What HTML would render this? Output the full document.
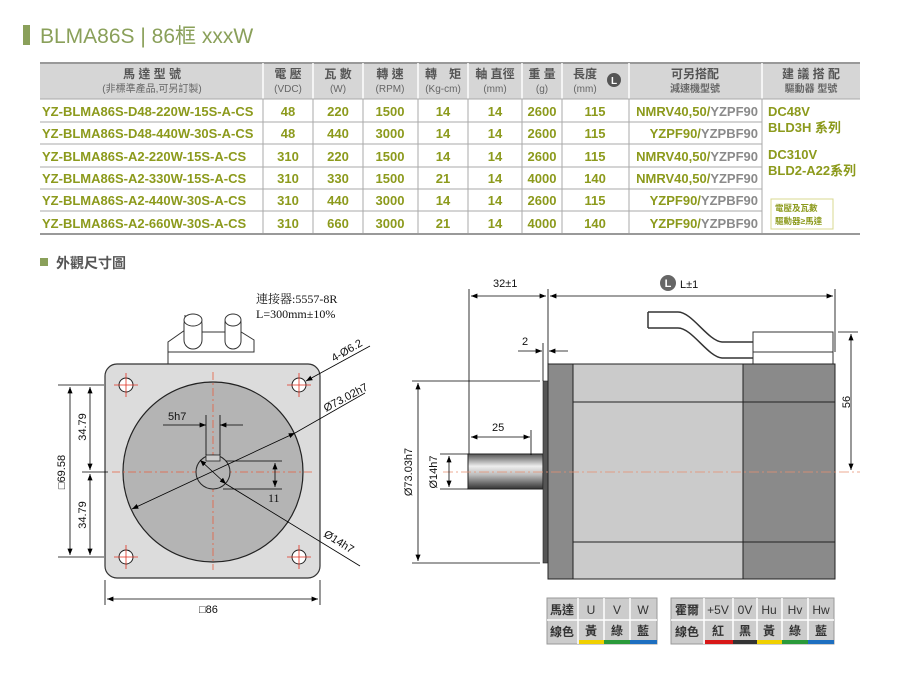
<!DOCTYPE html>
<html><head><meta charset="utf-8"><style>
body{margin:0;background:#fff;}
svg{display:block;font-family:"Liberation Sans","Noto Sans CJK TC",sans-serif;}
.o{fill:#8c9a1c;font-size:13px;font-weight:bold;}
.g{fill:#8a8a8a;font-size:13px;font-weight:bold;}
.h{fill:#555;font-size:12px;font-weight:bold;}
.hs{fill:#666;font-size:10px;}
.d{font-family:"Liberation Sans",sans-serif;font-size:11px;fill:#111;}
.s{font-family:"Liberation Serif","Noto Serif CJK SC",serif;font-size:12px;fill:#111;}
</style></head><body>
<svg width="900" height="675" viewBox="0 0 900 675">
<defs>
<marker id="a" viewBox="0 0 10 10" refX="10" refY="5" markerWidth="8" markerHeight="8" orient="auto-start-reverse"><path d="M0,1 L10,5 L0,9z" fill="#000"/></marker>
<linearGradient id="sh" x1="0" y1="0" x2="0" y2="1"><stop offset="0" stop-color="#555"/><stop offset="0.35" stop-color="#eee"/><stop offset="0.6" stop-color="#bbb"/><stop offset="1" stop-color="#333"/></linearGradient>
</defs>
<!-- title -->
<rect x="23" y="25" width="7" height="20" fill="#8aa05a"/>
<text x="40" y="43" font-size="21" fill="#8aa05a">BLMA86S | 86框 xxxW</text>
<!-- table -->
<rect x="40" y="63" width="820" height="36" fill="#d6d6d6"/>
<rect x="40" y="62" width="820" height="2" fill="#999"/>
<g stroke="#fff" stroke-width="1.5">
<line x1="263" y1="63" x2="263" y2="99"/><line x1="313" y1="63" x2="313" y2="99"/><line x1="363" y1="63" x2="363" y2="99"/><line x1="418" y1="63" x2="418" y2="99"/><line x1="468" y1="63" x2="468" y2="99"/><line x1="522" y1="63" x2="522" y2="99"/><line x1="562" y1="63" x2="562" y2="99"/><line x1="629" y1="63" x2="629" y2="99"/><line x1="762" y1="63" x2="762" y2="99"/>
</g>
<g stroke="#aaa" stroke-width="1">
<line x1="263" y1="99" x2="263" y2="234"/><line x1="313" y1="99" x2="313" y2="234"/><line x1="363" y1="99" x2="363" y2="234"/><line x1="418" y1="99" x2="418" y2="234"/><line x1="468" y1="99" x2="468" y2="234"/><line x1="522" y1="99" x2="522" y2="234"/><line x1="562" y1="99" x2="562" y2="234"/><line x1="629" y1="99" x2="629" y2="234"/><line x1="762" y1="99" x2="762" y2="234"/>
<line x1="40" y1="99" x2="860" y2="99"/>
<line x1="40" y1="122" x2="762" y2="122"/><line x1="40" y1="144" x2="762" y2="144"/><line x1="40" y1="167" x2="762" y2="167"/><line x1="40" y1="189" x2="762" y2="189"/><line x1="40" y1="211" x2="762" y2="211"/>
</g>
<rect x="40" y="233" width="820" height="2" fill="#999"/>
<g text-anchor="middle">
<text class="h" x="152" y="78">馬 達 型 號</text><text class="hs" x="152" y="92">(非標準產品,可另訂製)</text>
<text class="h" x="288" y="78">電 壓</text><text class="hs" x="288" y="92">(VDC)</text>
<text class="h" x="338" y="78">瓦 數</text><text class="hs" x="338" y="92">(W)</text>
<text class="h" x="390" y="78">轉 速</text><text class="hs" x="390" y="92">(RPM)</text>
<text class="h" x="443" y="78">轉　矩</text><text class="hs" x="443" y="92">(Kg-cm)</text>
<text class="h" x="495" y="78">軸 直徑</text><text class="hs" x="495" y="92">(mm)</text>
<text class="h" x="542" y="78">重 量</text><text class="hs" x="542" y="92">(g)</text>
<text class="h" x="585" y="78">長度</text><text class="hs" x="585" y="92">(mm)</text>
<text class="h" x="695" y="78">可另搭配</text><text class="hs" x="695" y="92" font-weight="bold">減速機型號</text>
<text class="h" x="811" y="78">建 議 搭 配</text><text class="hs" x="811" y="92" font-weight="bold">驅動器 型號</text>
</g>
<circle cx="614" cy="80" r="7" fill="#555"/><text x="614" y="84" font-size="10" fill="#fff" text-anchor="middle" font-weight="bold">L</text>
<g class="o">
<text class="o" x="42" y="116">YZ-BLMA86S-D48-220W-15S-A-CS</text>
<text class="o" x="42" y="138">YZ-BLMA86S-D48-440W-30S-A-CS</text>
<text class="o" x="42" y="161">YZ-BLMA86S-A2-220W-15S-A-CS</text>
<text class="o" x="42" y="183">YZ-BLMA86S-A2-330W-15S-A-CS</text>
<text class="o" x="42" y="205">YZ-BLMA86S-A2-440W-30S-A-CS</text>
<text class="o" x="42" y="228">YZ-BLMA86S-A2-660W-30S-A-CS</text>
</g>
<g text-anchor="middle">
<text class="o" x="288" y="116">48</text><text class="o" x="338" y="116">220</text><text class="o" x="390" y="116">1500</text><text class="o" x="443" y="116">14</text><text class="o" x="495" y="116">14</text><text class="o" x="542" y="116">2600</text><text class="o" x="595" y="116">115</text>
<text class="o" x="288" y="138">48</text><text class="o" x="338" y="138">440</text><text class="o" x="390" y="138">3000</text><text class="o" x="443" y="138">14</text><text class="o" x="495" y="138">14</text><text class="o" x="542" y="138">2600</text><text class="o" x="595" y="138">115</text>
<text class="o" x="288" y="161">310</text><text class="o" x="338" y="161">220</text><text class="o" x="390" y="161">1500</text><text class="o" x="443" y="161">14</text><text class="o" x="495" y="161">14</text><text class="o" x="542" y="161">2600</text><text class="o" x="595" y="161">115</text>
<text class="o" x="288" y="183">310</text><text class="o" x="338" y="183">330</text><text class="o" x="390" y="183">1500</text><text class="o" x="443" y="183">21</text><text class="o" x="495" y="183">14</text><text class="o" x="542" y="183">4000</text><text class="o" x="595" y="183">140</text>
<text class="o" x="288" y="205">310</text><text class="o" x="338" y="205">440</text><text class="o" x="390" y="205">3000</text><text class="o" x="443" y="205">14</text><text class="o" x="495" y="205">14</text><text class="o" x="542" y="205">2600</text><text class="o" x="595" y="205">115</text>
<text class="o" x="288" y="228">310</text><text class="o" x="338" y="228">660</text><text class="o" x="390" y="228">3000</text><text class="o" x="443" y="228">21</text><text class="o" x="495" y="228">14</text><text class="o" x="542" y="228">4000</text><text class="o" x="595" y="228">140</text>
</g>
<g text-anchor="end">
<text x="758" y="116"><tspan class="o">NMRV40,50/</tspan><tspan class="g">YZPF90</tspan></text>
<text x="758" y="138"><tspan class="o">YZPF90/</tspan><tspan class="g">YZPBF90</tspan></text>
<text x="758" y="161"><tspan class="o">NMRV40,50/</tspan><tspan class="g">YZPF90</tspan></text>
<text x="758" y="183"><tspan class="o">NMRV40,50/</tspan><tspan class="g">YZPF90</tspan></text>
<text x="758" y="205"><tspan class="o">YZPF90/</tspan><tspan class="g">YZPBF90</tspan></text>
<text x="758" y="228"><tspan class="o">YZPF90/</tspan><tspan class="g">YZPBF90</tspan></text>
</g>
<text class="o" x="768" y="116">DC48V</text><text class="o" x="768" y="132">BLD3H 系列</text>
<text class="o" x="768" y="159">DC310V</text><text class="o" x="768" y="175">BLD2-A22系列</text>
<rect x="771" y="199" width="62" height="30" fill="none" stroke="#d8d890" stroke-width="1"/>
<text x="775" y="211" font-size="8.5" fill="#8c9a1c" font-weight="bold">電壓及瓦數</text>
<text x="775" y="224" font-size="8.5" fill="#8c9a1c" font-weight="bold">驅動器≥馬達</text>
<!-- section title -->
<rect x="40" y="258" width="8" height="8" fill="#8aa05a"/>
<text x="56" y="268" font-size="14" fill="#555" font-weight="bold">外觀尺寸圖</text>

<!-- LEFT front view -->
<path d="M168,364 V342 L185,330 V315 M168,352 H254 V340 L238,330 V315" fill="none" stroke="#333" stroke-width="1"/>
<line x1="185" y1="332" x2="238" y2="332" stroke="#333"/>
<rect x="184" y="315" width="18" height="34" rx="9" fill="#fff" stroke="#333"/>
<ellipse cx="193" cy="320" rx="9" ry="6" fill="#fff" stroke="#333"/>
<rect x="225" y="315" width="16" height="34" rx="8" fill="#fff" stroke="#333"/>
<ellipse cx="233" cy="320" rx="8" ry="6" fill="#fff" stroke="#333"/>
<rect x="105" y="364" width="215" height="214" rx="12" fill="#dcdcdc" stroke="#333" stroke-width="1.2"/>
<circle cx="213" cy="472" r="90" fill="#b4b4b4" stroke="#222" stroke-width="1.2"/>
<g stroke="#e86040" stroke-width="0.8" stroke-dasharray="8,3,2,3">
<line x1="112" y1="472" x2="314" y2="472"/><line x1="213" y1="372" x2="213" y2="570"/>
</g>
<g fill="#fff" stroke="#222">
<circle cx="126" cy="385" r="7"/><circle cx="299" cy="385" r="7"/><circle cx="126" cy="557" r="7"/><circle cx="299" cy="557" r="7"/>
</g>
<g stroke="#e03020" stroke-width="0.8">
<path d="M114,385h24M126,373v24M287,385h24M299,373v24M114,557h24M126,545v24M287,557h24M299,545v24"/>
</g>
<circle cx="213" cy="472" r="17" fill="#b4b4b4" stroke="#222"/>
<rect x="206" y="455" width="14" height="6" fill="#ccc" stroke="#222" stroke-width="0.8"/>
<g stroke="#000" stroke-width="0.8" fill="none">
<line x1="206" y1="415" x2="206" y2="455"/><line x1="220" y1="415" x2="220" y2="455"/>
<line x1="163" y1="425" x2="206" y2="425" marker-end="url(#a)"/><line x1="243" y1="425" x2="220" y2="425" marker-end="url(#a)"/>
<line x1="226" y1="461" x2="282" y2="461"/><line x1="223" y1="489" x2="282" y2="489"/>
<line x1="275" y1="463" x2="275" y2="487" marker-start="url(#a)" marker-end="url(#a)"/>
<line x1="132" y1="509" x2="295" y2="433" marker-start="url(#a)" marker-end="url(#a)"/>
<line x1="295" y1="433" x2="365" y2="393"/>
<line x1="200" y1="460" x2="226" y2="484" marker-start="url(#a)" marker-end="url(#a)"/>
<line x1="226" y1="484" x2="360" y2="566"/>
<line x1="306" y1="381" x2="370" y2="346" marker-start="url(#a)"/>
<line x1="58" y1="385" x2="104" y2="385"/><line x1="58" y1="557" x2="104" y2="557"/><line x1="82" y1="472" x2="108" y2="472"/>
<line x1="70" y1="387" x2="70" y2="555" marker-start="url(#a)" marker-end="url(#a)"/>
<line x1="90" y1="387" x2="90" y2="470" marker-start="url(#a)" marker-end="url(#a)"/>
<line x1="90" y1="474" x2="90" y2="555" marker-start="url(#a)" marker-end="url(#a)"/>
<line x1="105" y1="580" x2="105" y2="605"/><line x1="320" y1="580" x2="320" y2="605"/>
<line x1="107" y1="599" x2="318" y2="599" marker-start="url(#a)" marker-end="url(#a)"/>
</g>
<text class="s" x="256" y="303">連接器:5557-8R</text>
<text class="s" x="256" y="318">L=300mm±10%</text>
<text class="d" x="168" y="420" font-size="12">5h7</text>
<text class="s" x="268" y="502">11</text>
<text class="d" x="199" y="613" font-size="12">□86</text>
<text class="d" font-size="12" transform="translate(86,427) rotate(-90)" text-anchor="middle">34.79</text>
<text class="d" font-size="12" transform="translate(86,515) rotate(-90)" text-anchor="middle">34.79</text>
<text class="d" font-size="12" transform="translate(65,472) rotate(-90)" text-anchor="middle">□69.58</text>
<text class="d" font-size="12" transform="translate(334,362) rotate(-30)">4-Ø6.2</text>
<text class="d" font-size="12" transform="translate(326,412) rotate(-28)">Ø73.02h7</text>
<text class="d" font-size="12" transform="translate(323,536) rotate(32)">Ø14h7</text>

<!-- RIGHT side view -->
<path d="M648,312 H678 C692,312 708,341 722,342 H753 M648,328 H678 C692,328 708,357 722,358 H753 M648,312 V328" fill="none" stroke="#333" stroke-width="1.5"/>
<rect x="753" y="332" width="80" height="32" fill="#fff" stroke="#333"/>
<line x1="753" y1="352" x2="833" y2="352" stroke="#333"/>
<rect x="468" y="454" width="75" height="35" fill="url(#sh)" stroke="#222"/>
<rect x="543" y="381" width="5" height="182" fill="#555" stroke="#222" stroke-width="0.6"/>
<rect x="548" y="364" width="25" height="215" fill="#8a8a8a" stroke="#222"/>
<rect x="573" y="364" width="170" height="215" fill="#cbcbcb" stroke="#222"/>
<rect x="743" y="364" width="92" height="215" fill="#8a8a8a" stroke="#222"/>
<line x1="573" y1="402" x2="835" y2="402" stroke="#222"/>
<line x1="573" y1="542" x2="835" y2="542" stroke="#222"/>
<line x1="443" y1="472" x2="860" y2="472" stroke="#e89070" stroke-width="0.8" stroke-dasharray="10,3,2,3"/>
<g stroke="#000" stroke-width="0.8" fill="none">
<line x1="469" y1="289" x2="469" y2="454"/><line x1="548" y1="289" x2="548" y2="364"/><line x1="835" y1="289" x2="835" y2="352"/>
<line x1="471" y1="296" x2="546" y2="296" marker-start="url(#a)" marker-end="url(#a)"/>
<line x1="550" y1="296" x2="833" y2="296" marker-start="url(#a)" marker-end="url(#a)"/>
<line x1="543" y1="343" x2="543" y2="381"/>
<line x1="518" y1="351" x2="542" y2="351" marker-end="url(#a)"/><line x1="568" y1="351" x2="549" y2="351" marker-end="url(#a)"/>
<line x1="531" y1="430" x2="531" y2="455"/>
<line x1="471" y1="437" x2="530" y2="437" marker-start="url(#a)" marker-end="url(#a)"/>
<line x1="412" y1="381" x2="540" y2="381"/><line x1="412" y1="563" x2="540" y2="563"/>
<line x1="418" y1="383" x2="418" y2="561" marker-start="url(#a)" marker-end="url(#a)"/>
<line x1="440" y1="454" x2="468" y2="454"/><line x1="440" y1="489" x2="468" y2="489"/>
<line x1="449" y1="456" x2="449" y2="487" marker-start="url(#a)" marker-end="url(#a)"/>
<line x1="838" y1="332" x2="858" y2="332"/>
<line x1="851" y1="334" x2="851" y2="470" marker-start="url(#a)" marker-end="url(#a)"/>
</g>
<text class="d" x="493" y="287" font-size="12">32±1</text>
<circle cx="668" cy="283" r="8" fill="#666"/><text x="668" y="287" font-size="11" fill="#fff" text-anchor="middle" font-weight="bold">L</text>
<text class="d" x="680" y="288" font-size="12">L±1</text>
<text class="d" x="522" y="345" font-size="12">2</text>
<text class="d" x="492" y="431" font-size="12">25</text>
<text class="d" font-size="12" transform="translate(412,472) rotate(-90)" text-anchor="middle">Ø73.03h7</text>
<text class="d" font-size="12" transform="translate(437,472) rotate(-90)" text-anchor="middle">Ø14h7</text>
<text class="d" font-size="12" transform="translate(850,402) rotate(-90)" text-anchor="middle">56</text>

<!-- wire tables -->
<g font-size="12" font-weight="bold" fill="#333" text-anchor="middle">
<rect x="547" y="598" width="110" height="46" fill="#ccc" stroke="#999"/>
<path d="M547,620H657M578,598V644M604,598V644M630,598V644" stroke="#fff" stroke-width="1.5"/>
<rect x="579" y="640" width="25" height="4" fill="#f0d000"/><rect x="604" y="640" width="26" height="4" fill="#2a9a3a"/><rect x="630" y="640" width="27" height="4" fill="#1e6fc0"/>
<text x="562" y="614">馬達</text><text x="591" y="614" font-weight="normal">U</text><text x="617" y="614" font-weight="normal">V</text><text x="643" y="614" font-weight="normal">W</text>
<text x="562" y="636">線色</text><text x="591" y="635">黃</text><text x="617" y="635">綠</text><text x="643" y="635">藍</text>
<rect x="671" y="598" width="163" height="46" fill="#ccc" stroke="#999"/>
<path d="M671,620H834M704,598V644M733,598V644M757,598V644M782,598V644M808,598V644" stroke="#fff" stroke-width="1.5"/>
<rect x="705" y="640" width="28" height="4" fill="#d81818"/><rect x="733" y="640" width="24" height="4" fill="#333"/><rect x="757" y="640" width="25" height="4" fill="#f0d000"/><rect x="782" y="640" width="26" height="4" fill="#2a9a3a"/><rect x="808" y="640" width="26" height="4" fill="#1e6fc0"/>
<text x="687" y="614">霍爾</text><text x="718" y="614" font-weight="normal">+5V</text><text x="745" y="614" font-weight="normal">0V</text><text x="769" y="614" font-weight="normal">Hu</text><text x="795" y="614" font-weight="normal">Hv</text><text x="821" y="614" font-weight="normal">Hw</text>
<text x="687" y="636">線色</text><text x="718" y="635">紅</text><text x="745" y="635">黑</text><text x="769" y="635">黃</text><text x="795" y="635">綠</text><text x="821" y="635">藍</text>
</g>
</svg>
</body></html>
